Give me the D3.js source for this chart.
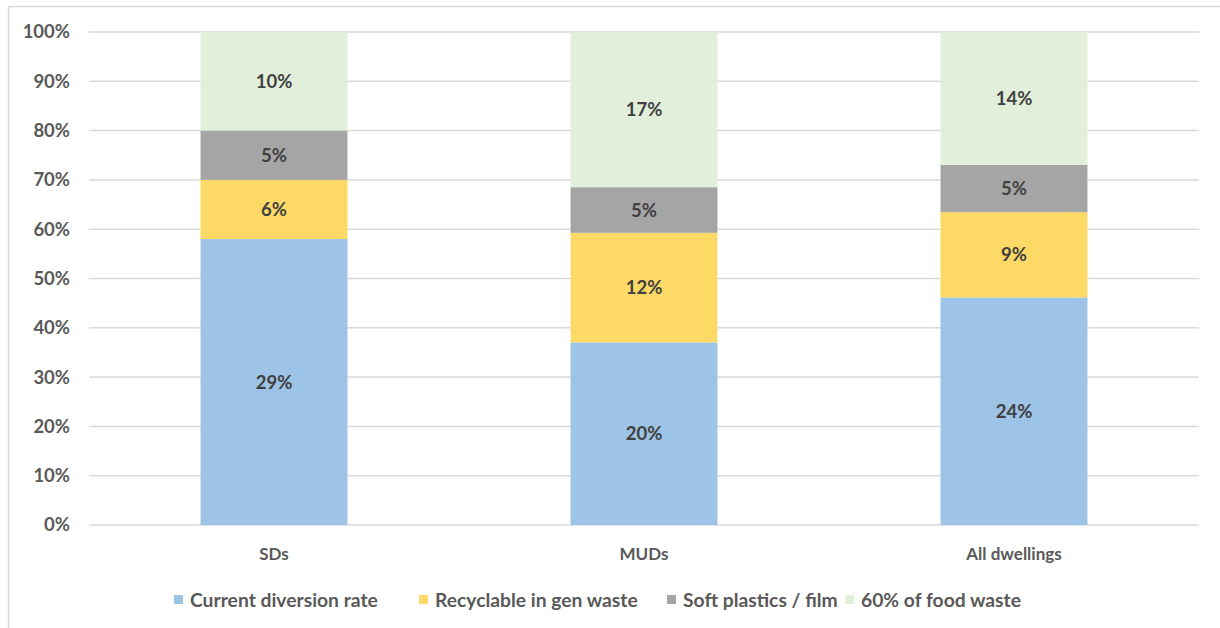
<!DOCTYPE html>
<html>
<head>
<meta charset="utf-8">
<script src="https://cdn.jsdelivr.net/npm/d3@7/dist/d3.min.js"></script>
<style>
  html, body { margin: 0; padding: 0; background: #fff; }
  svg { display: block; font-family: Lato, "Open Sans", sans-serif; }
</style>
</head>
<body>
<svg id="chart" width="1220" height="628"></svg>
<script>
// Dwelling types along the x axis
const categories = ["SDs", "MUDs", "All dwellings"];

// Series (stack order bottom to top) and their shares in percent
const seriesNames = ["Current diversion rate", "Recyclable in gen waste", "Soft plastics / film", "60% of food waste"];
const currentDiversion = [29, 20, 24];
const recyclableGen = [6, 12, 9];
const softPlastics = [5, 5, 5];
const foodWaste = [10, 17, 14];

const seriesColors = ["#9DC3E6", "#FFD966", "#A5A5A5", "#E2EFDA"];
const yTicks = [0, 0.1, 0.2, 0.3, 0.4, 0.5, 0.6, 0.7, 0.8, 0.9, 1.0];

const seriesValues = [currentDiversion, recyclableGen, softPlastics, foodWaste];
const rows = categories.map((c, i) => {
  const r = { category: c };
  seriesNames.forEach((s, j) => { r[s] = seriesValues[j][i]; });
  return r;
});

const svg = d3.select("#chart");
const margin = { left: 89, right: 21, top: 32, bottom: 103 };
const W = 1220, H = 628;

// Chart frame (left and top edges)
svg.append("path")
  .attr("d", "M8.5,628 V6.5 H1220")
  .attr("fill", "none")
  .attr("stroke", "#d9d9d9")
  .attr("stroke-width", 1.5);

const x = d3.scaleBand()
  .domain(categories)
  .range([margin.left, W - margin.right])
  .paddingInner(0.603)
  .paddingOuter(0.3015);

const y = d3.scaleLinear()
  .domain([0, 1])
  .range([H - margin.bottom, margin.top]);

// Gridlines
svg.append("g")
  .selectAll("line")
  .data(yTicks)
  .join("line")
  .attr("x1", margin.left)
  .attr("x2", W - margin.right)
  .attr("y1", d => y(d))
  .attr("y2", d => y(d))
  .attr("stroke", "#d9d9d9")
  .attr("stroke-width", 1.5);

// Y axis labels
const yAxis = d3.axisLeft(y)
  .tickValues(yTicks)
  .tickFormat(d3.format(".0%"))
  .tickSize(0)
  .tickPadding(19);
const yg = svg.append("g")
  .attr("transform", `translate(${margin.left},0)`)
  .call(yAxis);
yg.select(".domain").remove();
yg.selectAll("text")
  .attr("fill", "#595959")
  .attr("font-size", 18.5)
  .attr("font-weight", "bold")
  .attr("font-family", "Lato, sans-serif");

// Stacked, normalised to 100%
const stack = d3.stack()
  .keys(seriesNames)
  .offset(d3.stackOffsetExpand);
const stacked = stack(rows);

const layers = svg.append("g")
  .selectAll("g")
  .data(stacked)
  .join("g")
  .attr("fill", (d, i) => seriesColors[i]);

layers.selectAll("rect")
  .data(d => d.map(p => ({ p, key: d.key })))
  .join("rect")
  .attr("x", d => x(d.p.data.category))
  .attr("width", x.bandwidth())
  .attr("y", d => y(d.p[1]))
  .attr("height", d => y(d.p[0]) - y(d.p[1]));

// Data labels (raw percentages)
layers.selectAll("text")
  .data(d => d.map(p => ({ p, key: d.key })))
  .join("text")
  .attr("x", d => x(d.p.data.category) + x.bandwidth() / 2)
  .attr("y", d => (y(d.p[0]) + y(d.p[1])) / 2)
  .attr("dy", "0.35em")
  .attr("text-anchor", "middle")
  .attr("fill", "#404040")
  .attr("font-size", 18.5)
  .attr("font-weight", "bold")
  .text(d => d.p.data[d.key] + "%");

// X axis category labels
const xAxis = d3.axisBottom(x).tickSize(0).tickPadding(23);
const xg = svg.append("g")
  .attr("transform", `translate(0,${H - margin.bottom})`)
  .call(xAxis);
xg.select(".domain").remove();
xg.selectAll("text")
  .attr("fill", "#595959")
  .attr("font-size", 17)
  .attr("font-weight", "bold")
  .attr("font-family", "Lato, sans-serif");

// Legend
const legendX = [174, 419, 667, 845];
const legend = svg.append("g");
seriesNames.forEach((s, i) => {
  const g = legend.append("g").attr("transform", `translate(${legendX[i]},600)`);
  g.append("rect")
    .attr("x", 0).attr("y", -5)
    .attr("width", 9).attr("height", 9)
    .attr("fill", seriesColors[i]);
  g.append("text")
    .attr("x", 16)
    .attr("dy", "0.35em")
    .attr("fill", "#595959")
    .attr("font-size", 19.3)
    .attr("font-weight", "bold")
    .text(s);
});
</script>
</body>
</html>
